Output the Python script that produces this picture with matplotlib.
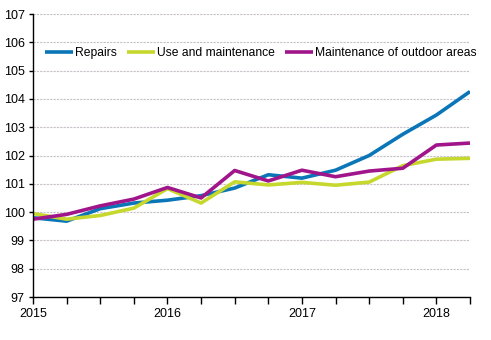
import matplotlib
matplotlib.use("Agg")
import matplotlib.pyplot as plt
import numpy as np

plt.rcParams['font.family'] = ['Liberation Sans', 'DejaVu Sans']

quarters = ["2015Q1", "2015Q2", "2015Q3", "2015Q4",
            "2016Q1", "2016Q2", "2016Q3", "2016Q4",
            "2017Q1", "2017Q2", "2017Q3", "2017Q4",
            "2018Q1", "2018Q2"]
repairs = [99.80, 99.68, 100.12, 100.32, 100.42, 100.58, 100.85, 101.32,
           101.20, 101.48, 102.00, 102.75, 103.43, 104.26]
use_maintenance = [99.95, 99.75, 99.88, 100.14, 100.83, 100.32, 101.07, 100.96,
                   101.05, 100.95, 101.06, 101.64, 101.87, 101.90]
outdoor = [99.75, 99.92, 100.22, 100.46, 100.87, 100.50, 101.47, 101.10,
           101.48, 101.25, 101.45, 101.55, 102.37, 102.44]
year_labels = ["2015", "2016", "2017", "2018"]

fig = plt.figure(figsize=(4.91, 3.40), dpi=100)
ax = fig.add_axes([33/491, 1-297/340, (470-33)/491, (297-14)/340])

x = np.arange(len(quarters))
ax.plot(x, repairs, color='#0a76b8', lw=2.6, label='Repairs', solid_capstyle='butt')
ax.plot(x, use_maintenance, color='#c6d82e', lw=2.6, label='Use and maintenance', solid_capstyle='butt')
ax.plot(x, outdoor, color='#a0158a', lw=2.6, label='Maintenance of outdoor areas', solid_capstyle='butt')

ax.set_xlim(0, len(quarters) - 1)
ax.set_ylim(97, 107)
ax.set_yticks(np.arange(97, 108, 1))
ax.set_xticks([0, 4, 8, 12])
ax.set_xticklabels(year_labels)
ax.set_xticks(x, minor=True)
ax.tick_params(axis='x', which='both', length=5, width=1, direction='out', labelsize=9, pad=3)
ax.tick_params(axis='y', length=3, width=1, direction='out', labelsize=9, pad=3)

ax.grid(axis='y', color='#c8c0c8', lw=0.8, linestyle=(0, (2, 1)))
ax.set_axisbelow(True)
for s in ['top', 'right']:
    ax.spines[s].set_visible(False)
for s in ['left', 'bottom']:
    ax.spines[s].set_color('black')
    ax.spines[s].set_linewidth(1)

leg = ax.legend(loc='center left', bbox_to_anchor=(12/437, (297-53)/283), ncol=3, frameon=False,
                fontsize=8.7, handlelength=2.35, handletextpad=0.15, columnspacing=0.8,
                borderaxespad=0, borderpad=0)

fig.savefig("out.png", dpi=100)
